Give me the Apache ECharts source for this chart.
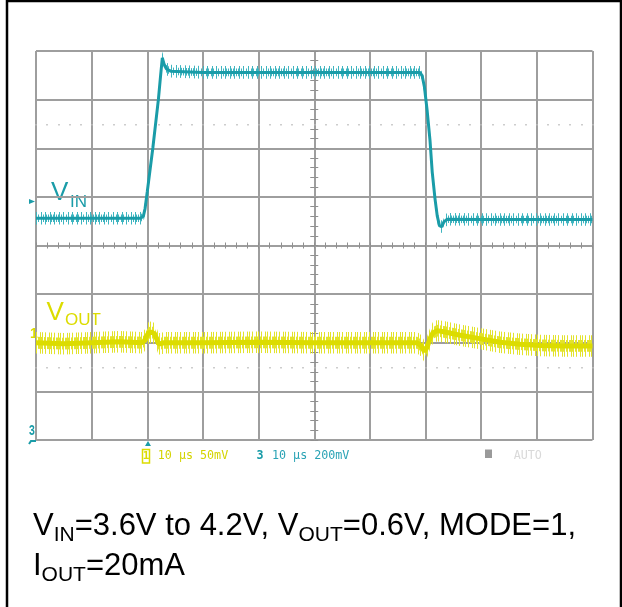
<!DOCTYPE html>
<html>
<head>
<meta charset="utf-8">
<script src="https://cdn.jsdelivr.net/npm/echarts@6/dist/echarts.min.js"></script>
<style>
  html, body { margin: 0; padding: 0; background: #fff; }
  #scope { width: 622px; height: 607px; }
</style>
</head>
<body>
<div id="scope"></div>
<script>
// Horizontal: microseconds relative to the trigger, 10 us/div
const timeMin = -20;
const timeMax = 80;
const timeStep = 10;

// Channel 3: input voltage (V)
const vinTime  = [-20, -8, -1.2, -0.7, -0.4, 0.0, 0.5, 1.0, 1.5, 2.0, 2.4, 2.7, 3.0, 3.4, 4.2, 10, 20, 30, 40,
                  49.0, 49.4, 49.8, 50.3, 50.8, 51.2, 51.7, 52.1, 52.5, 52.9, 53.3, 53.9, 60, 70, 80];
const vinVolts = [3.600, 3.600, 3.600, 3.610, 3.640, 3.710, 3.800, 3.890, 3.990, 4.090, 4.190, 4.260, 4.235, 4.215, 4.205, 4.200, 4.200, 4.200, 4.200,
                  4.200, 4.185, 4.140, 4.040, 3.920, 3.790, 3.680, 3.610, 3.570, 3.565, 3.585, 3.596, 3.595, 3.595, 3.595];

// Channel 1: output voltage, AC coupled (mV around 0.6 V)
const voutTime = [-20, -15, -10, -5, -1, -0.5, -0.2, 0.2, 0.8, 1.3, 1.7, 2.0, 2.4, 3.0, 10, 20, 30, 40,
                  48.5, 49.2, 49.8, 50.3, 50.8, 51.3, 52.1, 53.5, 56, 60, 63.4, 67, 70.6, 75, 80];
const voutMv   = [0, -1, 0, 1, 0, 2, 6, 10, 11, 9, 4, -1, -1, 0, 0, 0.5, 0, 0,
                  0, -3, -9, -4, 4, 10, 12.5, 11, 8, 4, 0.5, -1.5, -2.8, -3.3, -3.3];

// Peak switching noise riding on each trace
const vinNoiseV = 0.026;
const voutNoiseMv = 11;

// Channel settings and on-screen readouts
const vinVoltsPerDiv = 0.2;
const vinRefVolts = 3.6;
const vinRefDiv = 4.56;
const voutMvPerDiv = 50;
const voutZeroDiv = 2;
const ch1Readout = '10 µs 50mV';
const ch3Readout = '10 µs 200mV';
const triggerMode = 'AUTO';

const TEAL = '#1a9ca8';
const TEAL_NOISE = '#3fb5c0';
const YELLOW = '#dcdc00';
const YELLOW_NOISE = '#e3e32a';
const GRID = '#9e9e9e';
const SANS = '"Liberation Sans", Arial, sans-serif';
const MONO = '"DejaVu Sans Mono", monospace';

const vinDiv = v => vinRefDiv + (v - vinRefVolts) / vinVoltsPerDiv;
const voutDiv = mv => voutZeroDiv + mv / voutMvPerDiv;

// Vertical hatch used to render the noise envelope
function stripePattern(color, width, height, columns) {
  const c = document.createElement('canvas');
  c.width = width; c.height = height;
  const ctx = c.getContext('2d');
  ctx.fillStyle = color;
  columns.forEach(x => ctx.fillRect(x, 0, 1, height));
  return { image: c, repeat: 'repeat' };
}

function noiseBand(times, values, toDiv, half, fill) {
  return {
    type: 'custom',
    silent: true,
    data: [[times[0], toDiv(values[0])]],
    renderItem: (params, api) => {
      const upper = times.map((t, i) => api.coord([t, toDiv(values[i] + half)]));
      const lower = times.map((t, i) => api.coord([t, toDiv(values[i] - half)])).reverse();
      return { type: 'polygon', shape: { points: upper.concat(lower) }, style: { fill } };
    }
  };
}

function trace(times, values, toDiv, color, width) {
  return {
    type: 'line',
    silent: true,
    symbol: 'none',
    data: times.map((t, i) => [t, toDiv(values[i])]),
    lineStyle: { color, width }
  };
}

// Helper axes: graticule centre ticks and dotted rows
function tickAxis(min, max, step, onZeroIndex, inside, len, color, width) {
  return {
    type: 'value', min, max, interval: step,
    axisLine: { show: false, onZero: true, onZeroAxisIndex: onZeroIndex },
    axisTick: { show: true, inside, length: len, lineStyle: { color, width } },
    axisLabel: { show: false },
    splitLine: { show: false }
  };
}
function hiddenAxis(min, max) {
  return {
    type: 'value', min, max,
    axisLine: { show: false, onZero: false }, axisTick: { show: false },
    axisLabel: { show: false }, splitLine: { show: false }
  };
}

const option = {
  animation: false,
  backgroundColor: '#fff',
  grid: { left: 36, right: 29.5, top: 51, bottom: 167, containLabel: false },
  xAxis: [
    {
      type: 'value', min: timeMin, max: timeMax, interval: timeStep,
      axisLine: { show: false }, axisTick: { show: false }, axisLabel: { show: false },
      splitLine: { show: true, lineStyle: { color: GRID, width: 2 } }
    },
    tickAxis(-5, 5, 0.2, 1, true, 3, '#8f8f8f', 1),
    tickAxis(-5, 5, 0.2, 1, false, 3, '#8f8f8f', 1),
    tickAxis(-5, 5, 0.2, 3, true, 1.5, '#bdbdbd', 1.5),
    tickAxis(-5, 5, 0.2, 4, true, 1.5, '#bdbdbd', 1.5)
  ],
  yAxis: [
    {
      type: 'value', min: 0, max: 8, interval: 1,
      axisLine: { show: false }, axisTick: { show: false }, axisLabel: { show: false },
      splitLine: { show: true, lineStyle: { color: GRID, width: 2 } }
    },
    tickAxis(-4, 4, 0.2, 1, true, 4, '#8f8f8f', 1),
    tickAxis(-4, 4, 0.2, 1, false, 4, '#8f8f8f', 1),
    hiddenAxis(-1.5, 6.5),
    hiddenAxis(-6.5, 1.5)
  ],
  series: [
    noiseBand(vinTime, vinVolts, vinDiv, vinNoiseV, stripePattern(TEAL_NOISE, 9, 8, [0, 5])),
    noiseBand(vinTime, vinVolts, vinDiv, vinNoiseV * 0.6, stripePattern(TEAL_NOISE, 5, 8, [1, 3])),
    trace(vinTime, vinVolts, vinDiv, TEAL, 3),
    noiseBand(voutTime, voutMv, voutDiv, voutNoiseMv, stripePattern(YELLOW_NOISE, 9, 8, [0, 4, 6])),
    noiseBand(voutTime, voutMv, voutDiv, voutNoiseMv * 0.55, stripePattern(YELLOW_NOISE, 3, 8, [0, 2])),
    trace(voutTime, voutMv, voutDiv, YELLOW, 5)
  ],
  graphic: [
    // outer frame
    { type: 'rect', z: 100, silent: true, shape: { x: 7, y: 1, width: 614, height: 640 },
      style: { fill: 'none', stroke: '#000', lineWidth: 2.5 } },

    // trace names
    { type: 'text', x: 51, y: 180, style: { text: 'V', font: '26px ' + SANS, fill: TEAL, lineHeight: 26, verticalAlign: 'top' } },
    { type: 'text', x: 70, y: 193.6, style: { text: 'IN', font: '17px ' + SANS, fill: TEAL, lineHeight: 17, verticalAlign: 'top' } },
    { type: 'text', x: 46.5, y: 299.7, style: { text: 'V', font: '26px ' + SANS, fill: YELLOW, lineHeight: 26, verticalAlign: 'top' } },
    { type: 'text', x: 65, y: 311.6, style: { text: 'OUT', font: '17px ' + SANS, fill: YELLOW, lineHeight: 17, verticalAlign: 'top' } },

    // channel reference markers
    { type: 'text', x: 30, y: 327, style: { text: '1', font: 'bold 14px ' + SANS, fill: YELLOW, verticalAlign: 'top' } },
    { type: 'polygon', shape: { points: [[29, 199], [35, 201.5], [29, 204]] }, style: { fill: TEAL } },
    { type: 'text', x: 29, y: 424, scaleX: 0.75, style: { text: '3', font: 'bold 14px ' + SANS, fill: TEAL, verticalAlign: 'top' } },
    { type: 'polyline', shape: { points: [[29, 444], [31, 441], [36, 441]] }, style: { stroke: TEAL, lineWidth: 2, fill: 'none' } },
    { type: 'polygon', shape: { points: [[145, 446], [148, 441], [151, 446]] }, style: { fill: TEAL } },

    // status line
    { type: 'rect', shape: { x: 142.5, y: 449.5, width: 7, height: 13.5 }, style: { fill: 'none', stroke: YELLOW, lineWidth: 1.5 } },
    { type: 'text', x: 146, y: 456.5, style: { text: '1', font: 'bold 11px ' + MONO, fill: YELLOW, align: 'center', verticalAlign: 'middle' } },
    { type: 'text', x: 157.8, y: 455.5, style: { text: ch1Readout, font: '11.7px ' + MONO, fill: '#d4d400', verticalAlign: 'middle' } },
    { type: 'text', x: 256.5, y: 455.5, style: { text: '3', font: 'bold 11.7px ' + MONO, fill: TEAL, verticalAlign: 'middle' } },
    { type: 'text', x: 272, y: 455.5, style: { text: ch3Readout, font: '11.7px ' + MONO, fill: '#2aa3b5', verticalAlign: 'middle' } },
    { type: 'rect', shape: { x: 485, y: 449.5, width: 7, height: 8.5 }, style: { fill: '#9a9a9a' } },
    { type: 'text', x: 513.7, y: 455.5, style: { text: triggerMode, font: '11.7px ' + MONO, fill: '#d9d9d9', verticalAlign: 'middle' } },

    // test conditions
    { type: 'text', x: 33, y: 506, style: {
        verticalAlign: 'top',
        text: '{n|V}{s|IN}{n|=3.6V to 4.2V, V}{s|OUT}{n|=0.6V, MODE=1,}\n{n|I}{s|OUT}{n|=20mA}',
        rich: {
          n: { fontSize: 31, fontFamily: SANS, fill: '#000', lineHeight: 40 },
          s: { fontSize: 21, fontFamily: SANS, fill: '#000', lineHeight: 22, padding: [18, 0, 0, 0] }
        }
      } }
  ]
};

const chart = echarts.init(document.getElementById('scope'));
chart.setOption(option);
</script>
</body>
</html>
